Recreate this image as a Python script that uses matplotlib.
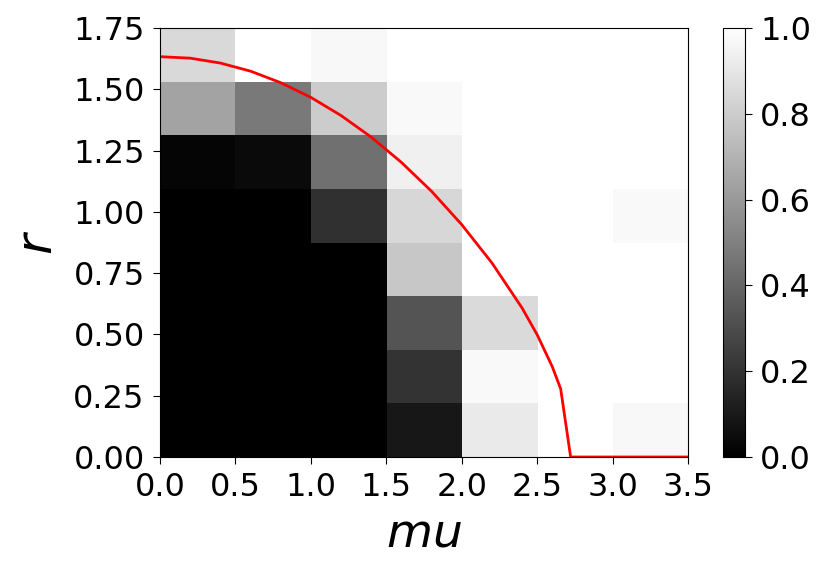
import numpy as np
import matplotlib
matplotlib.use('Agg')
from matplotlib import pyplot as plt

# grid edges (mu along x, r along y)
mu_edges = [0.0, 0.5, 1.0, 1.5, 2.0, 2.5, 3.0, 3.5]
r_edges = [0.0, 0.21875, 0.4375, 0.65625, 0.875, 1.09375, 1.3125, 1.53125, 1.75]

# fraction per cell, rows from r=0 (bottom) up to r=1.75 (top)
row_0 = [0.0, 0.0, 0.0, 0.09, 0.915, 1.0, 0.97]
row_1 = [0.0, 0.0, 0.0, 0.20, 0.975, 1.0, 1.0]
row_2 = [0.0, 0.0, 0.0, 0.33, 0.855, 1.0, 1.0]
row_3 = [0.0, 0.0, 0.0, 0.78, 1.0, 1.0, 1.0]
row_4 = [0.0, 0.0, 0.19, 0.84, 1.0, 1.0, 0.975]
row_5 = [0.02, 0.04, 0.44, 0.94, 1.0, 1.0, 1.0]
row_6 = [0.64, 0.48, 0.80, 0.975, 1.0, 1.0, 1.0]
row_7 = [0.85, 1.0, 0.97, 1.0, 1.0, 1.0, 1.0]

# boundary curve
curve_mu = [0.0, 0.2, 0.4, 0.6, 0.8, 1.0, 1.2, 1.4, 1.6, 1.8, 2.0,
            2.2, 2.4, 2.5, 2.6, 2.656, 2.722, 3.5]
curve_r = [1.633, 1.627, 1.607, 1.574, 1.527, 1.467, 1.393, 1.305, 1.202, 1.084, 0.948,
           0.792, 0.608, 0.499, 0.369, 0.278, 0.0, 0.0]

grid = np.array([row_0, row_1, row_2, row_3, row_4, row_5, row_6, row_7])

fig = plt.figure(figsize=(8.3, 5.74), dpi=100)
ax = fig.add_axes([160 / 830, 1 - 457 / 574, 528 / 830, 429 / 574])
cax = fig.add_axes([723 / 830, 1 - 457 / 574, 22 / 830, 429 / 574])

im = ax.imshow(grid, cmap='gray', vmin=0, vmax=1, origin='lower', aspect='auto',
               extent=[mu_edges[0], mu_edges[-1], r_edges[0], r_edges[-1]],
               interpolation='nearest')
ax.plot(curve_mu, curve_r, color='red', linewidth=2)
ax.set_xlim(0, 3.5)
ax.set_ylim(0, 1.75)
ax.set_xticks(np.arange(0, 3.51, 0.5))
ax.set_yticks(np.arange(0, 1.76, 0.25))
ax.tick_params(labelsize=23, length=5, pad=6)
ax.set_xlabel('$mu$', fontsize=34, labelpad=6)
ax.set_ylabel('$r$', fontsize=36, labelpad=8)

cb = fig.colorbar(im, cax=cax, ticks=[0, 0.2, 0.4, 0.6, 0.8, 1.0])
cb.ax.tick_params(labelsize=23, length=5, pad=6)

plt.savefig('out.png', dpi=100)
